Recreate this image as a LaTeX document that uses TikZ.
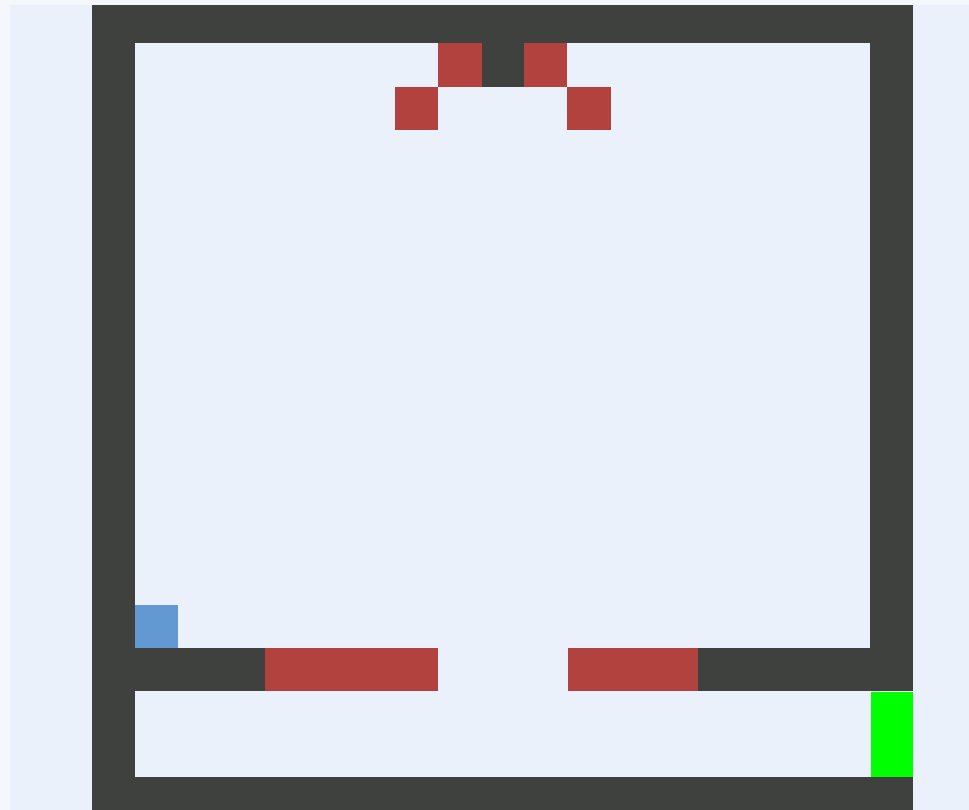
\documentclass[tikz,border=0pt]{standalone}
\definecolor{bgc}{HTML}{EAF1FA}
\definecolor{edgec}{HTML}{F4F8FC}
\definecolor{wallc}{HTML}{3F413E}
\definecolor{redc}{HTML}{B1423E}
\definecolor{bluec}{HTML}{6399D2}
\definecolor{greenc}{HTML}{00FF00}
\tikzset{
  wall/.style={fill=wallc, draw=none},
  hazard/.style={fill=redc, draw=none},
  agent/.style={fill=bluec, draw=none},
  goal/.style={fill=greenc, draw=none}
}
\begin{document}
\begin{tikzpicture}[x=1pt,y=-1pt]
\useasboundingbox (0,0) rectangle (969,810);
\fill[bgc] (0,0) rectangle (969,810);
\fill[edgec] (0,0) rectangle (10,810);
\fill[edgec] (0,0) rectangle (969,5);
% outer walls
\fill[wall] (92,5) rectangle (913,43);
\fill[wall] (92,5) rectangle (135,810);
\fill[wall] (870,5) rectangle (913,691);
\fill[wall] (92,777) rectangle (913,810);
% top stub
\fill[wall] (482,43) rectangle (524,87);
% top hazards
\fill[hazard] (438,43) rectangle (482,87);
\fill[hazard] (524,43) rectangle (567,87);
\fill[hazard] (395,87) rectangle (438,130);
\fill[hazard] (567,87) rectangle (611,130);
% shelves
\fill[wall] (135,648) rectangle (265,691);
\fill[hazard] (265,648) rectangle (438,691);
\fill[hazard] (568,648) rectangle (698,691);
\fill[wall] (698,648) rectangle (913,691);
% agent and goal
\fill[agent] (135,605) rectangle (178,648);
\fill[goal] (871,692) rectangle (913,777);
\end{tikzpicture}
\end{document}
